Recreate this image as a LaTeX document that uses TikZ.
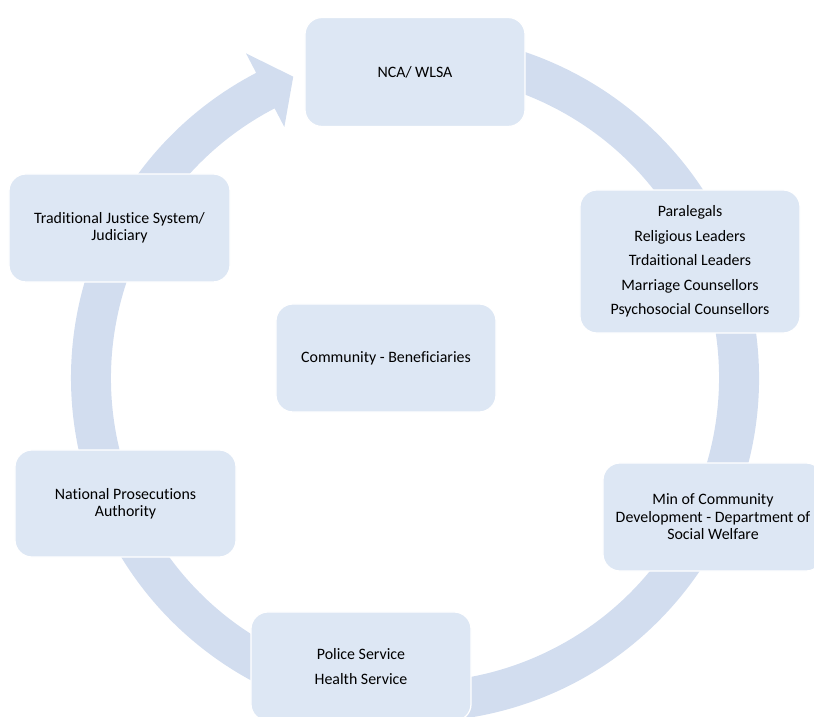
\documentclass[tikz,border=0pt]{standalone}
\usepackage{fontspec}
\setmainfont[Ligatures={NoCommon}]{Carlito}
\usepackage{tikz}
\definecolor{ringblue}{HTML}{D2DDEF}
\definecolor{boxblue}{HTML}{DDE7F4}
\tikzset{
   stagebox/.style={rectangle, rounded corners=0.425cm, fill=boxblue, draw=white, line width=0.9pt,
                    minimum width=5.5cm, minimum height=2.725cm, align=center, text=black,
                    font=\fontsize{11.3}{12.4}\selectfont},
   listbox/.style={stagebox, font=\fontsize{11.3}{17.5}\selectfont},
   ring/.style={fill=ringblue, draw=none}
}

\begin{document}
\begin{tikzpicture}[x=0.025cm,y=0.025cm]
\useasboundingbox (0,0) rectangle (814,716);
% circular arrow behind the boxes
\begin{scope}[shift={(415,338)}]
\fill[ring] (100:344) arc[start angle=100, end angle=-242.5, radius=344]
   -- (117.5:366) -- (112:325) -- (117.5:283)
   -- (117.5:304) arc[start angle=-242.5, end angle=100, radius=304] -- cycle;
\end{scope}
% stages
\node[stagebox] (nca) at (415,644) {NCA/ WLSA};
\node[listbox, minimum height=3.575cm] (para) at (690,454.5) {Paralegals\\Religious Leaders\\Trdaitional Leaders\\Marriage Counsellors\\Psychosocial Counsellors};
\node[stagebox, minimum height=2.7cm] (mincd) at (713,199) {Min of Community\\Development - Department of\\Social Welfare};
\node[listbox] (police) at (361,49.5) {Police Service\\Health Service};
\node[stagebox, minimum width=5.525cm, minimum height=2.675cm] (npa) at (125.5,212.5) {National Prosecutions\\Authority};
\node[stagebox, minimum width=5.525cm, minimum height=2.7cm] (trad) at (119.5,488) {Traditional Justice System/\\Judiciary};
\node[stagebox, minimum height=2.7cm] (comm) at (386,358) {Community - Beneficiaries};
\end{tikzpicture}
\end{document}
